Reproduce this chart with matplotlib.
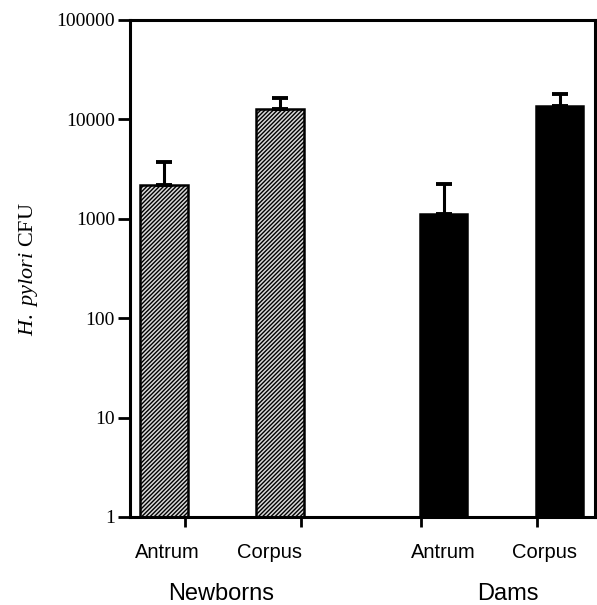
import matplotlib
matplotlib.use("Agg")
import matplotlib.pyplot as plt
import numpy as np

plt.rcParams['hatch.linewidth'] = 1.0
plt.rcParams['mathtext.fontset'] = 'custom'
plt.rcParams['mathtext.it'] = 'Liberation Serif:italic'
plt.rcParams['mathtext.rm'] = 'Liberation Serif'

groups = ["Newborns", "Dams"]
regions = ["Antrum", "Corpus", "Antrum", "Corpus"]
means = [2190, 12700, 1110, 13600]
upper_err = [1540, 3700, 1130, 4400]
positions = [0.0, 1.0, 2.41, 3.41]
colors = ["#d8d8d8", "#d8d8d8", "black", "black"]
hatches = ["////////", "////////", None, None]
ytick_vals = [1, 10, 100, 1000, 10000, 100000]
ytick_labels = ["1", "10", "100", "1000", "10000", "100000"]

fig = plt.figure(figsize=(5.97, 6.05), dpi=100)
ax = fig.add_axes([0.218, 0.1455, 0.779, 0.822])

w = 0.41
for p, m, e, c, h in zip(positions, means, upper_err, colors, hatches):
    ax.bar(p, m - 1, bottom=1, width=w, color=c, edgecolor="black",
           hatch=h, linewidth=1.8, zorder=2)
    ax.errorbar(p, m, yerr=[[0], [e]], fmt="none", ecolor="black",
                elinewidth=2.2, capsize=6, capthick=2.8, zorder=3)

ax.set_yscale("log")
ax.set_ylim(1, 100000)
ax.set_xlim(-0.293, 3.716)
ax.set_yticks(ytick_vals)
ax.set_yticklabels(ytick_labels, family="Liberation Serif", fontsize=14)
ax.yaxis.set_minor_locator(matplotlib.ticker.NullLocator())
ax.tick_params(axis="y", which="major", direction="out", length=9, width=2, pad=2)

tick_offsets = [0.18, 0.18, -0.2, -0.2]
ax.set_xticks([p + o for p, o in zip(positions, tick_offsets)])
ax.set_xticklabels([])
ax.tick_params(axis="x", direction="out", length=7, width=2)

for s in ax.spines.values():
    s.set_linewidth(2.2)

label_x = [0.03, 0.91, 2.405, 3.28]
for lx, r in zip(label_x, regions):
    ax.text(lx, -0.072, r, transform=ax.get_xaxis_transform(), ha="center",
            va="center", family="Liberation Sans", fontsize=14.5)

group_x = [0.49, 2.96]
for gx, g in zip(group_x, groups):
    ax.text(gx, -0.155, g, transform=ax.get_xaxis_transform(), ha="center",
            va="center", family="Liberation Sans", fontsize=17)

fig.text(0.047, 0.555, r"$\mathit{H.\ pylori}$ CFU", rotation=90, ha="center",
         va="center", family="Liberation Serif", fontsize=16)

fig.savefig("out.png", dpi=100)
